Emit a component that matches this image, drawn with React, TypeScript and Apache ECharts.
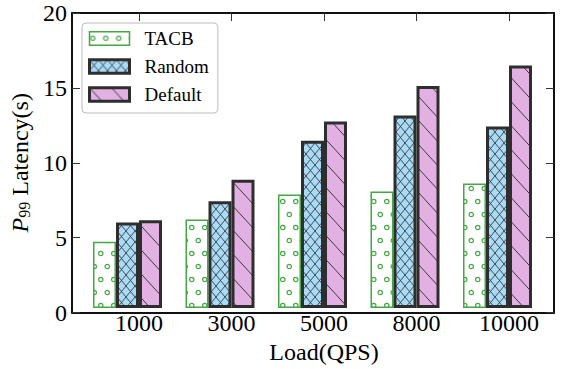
import React, { useEffect, useRef } from 'react';
import * as echarts from 'echarts';

const categories = ['1000', '3000', '5000', '8000', '10000'];
const tacbValues = [4.5, 6.0, 7.7, 7.9, 8.45];
const randomValues = [5.8, 7.25, 11.35, 13.05, 12.3];
const defaultValues = [5.95, 8.7, 12.65, 15.05, 16.45];
const seriesNames = ['TACB', 'Random', 'Default'];
const yMin = 0;
const yMax = 20;
const yInterval = 5;

const FONT = "'Liberation Serif', 'Times New Roman', serif";
const GREEN = '#45a845';
const DARK = '#2e2e2e';
const BLUE = '#a8dbf8';
const PINK = '#e2b0e2';

function makeTile(w: number, h: number, draw: (ctx: CanvasRenderingContext2D) => void) {
  const c = document.createElement('canvas');
  c.width = w;
  c.height = h;
  const ctx = c.getContext('2d') as CanvasRenderingContext2D;
  draw(ctx);
  return { image: c, repeat: 'repeat', imageWidth: w, imageHeight: h } as any;
}

function dotsPattern() {
  const w = 13, h = 26;
  return makeTile(w, h, (ctx) => {
    ctx.fillStyle = '#ffffff';
    ctx.fillRect(0, 0, w, h);
    ctx.strokeStyle = GREEN;
    ctx.lineWidth = 1.2;
    const pts = [[3.25, 6.5], [9.75, 19.5]];
    pts.forEach(([x, y]) => {
      ctx.beginPath();
      ctx.arc(x, y, 2.2, 0, Math.PI * 2);
      ctx.stroke();
    });
  });
}

function crossPattern() {
  const w = 9, h = 11;
  return makeTile(w, h, (ctx) => {
    ctx.fillStyle = BLUE;
    ctx.fillRect(0, 0, w, h);
    ctx.strokeStyle = '#3a3a3a';
    ctx.lineWidth = 0.9;
    for (let k = -1; k <= 1; k++) {
      ctx.beginPath();
      ctx.moveTo(k * w - w, -h);
      ctx.lineTo(k * w + 2 * w, 2 * h);
      ctx.stroke();
      ctx.beginPath();
      ctx.moveTo(k * w - w, 2 * h);
      ctx.lineTo(k * w + 2 * w, -h);
      ctx.stroke();
    }
  });
}

function diagPattern() {
  const w = 22, h = 24;
  return makeTile(w, h, (ctx) => {
    ctx.fillStyle = PINK;
    ctx.fillRect(0, 0, w, h);
    ctx.strokeStyle = '#3a3a3a';
    ctx.lineWidth = 1;
    for (let k = -1; k <= 1; k++) {
      ctx.beginPath();
      ctx.moveTo(k * w - w, -h);
      ctx.lineTo(k * w + 2 * w, 2 * h);
      ctx.stroke();
    }
  });
}

export default function App() {
  const ref = useRef<HTMLDivElement>(null);

  useEffect(() => {
    if (!ref.current) return;
    const chart = echarts.init(ref.current, null, { renderer: 'svg' });
    const dots = dotsPattern();
    const cross = crossPattern();
    const diag = diagPattern();

    const gridTop = 13;
    const gridBottom = 56.5;

    const frameAxis = {
      type: 'value',
      min: 0,
      max: 1,
      axisLine: { show: true, onZero: false, lineStyle: { color: '#111', width: 2 } },
      axisTick: { show: false },
      axisLabel: { show: false },
      splitLine: { show: false },
    };

    const option: any = {
      animation: false,
      textStyle: { fontFamily: FONT, color: '#000' },
      grid: [
        { left: 72, right: 10, top: gridTop, bottom: gridBottom },
        { left: 92.75, right: 8.75, top: gridTop, bottom: gridBottom },
      ],
      xAxis: [
        { ...frameAxis, gridIndex: 0, position: 'bottom' },
        { ...frameAxis, gridIndex: 0, position: 'top' },
        {
          type: 'category',
          gridIndex: 1,
          position: 'bottom',
          data: categories,
          axisLine: { show: false, onZero: false },
          axisTick: { show: false },
          axisLabel: { fontFamily: FONT, fontSize: 24, color: '#000', margin: 3 },
          name: 'Load(QPS)',
          nameLocation: 'middle',
          nameGap: 27,
          nameTextStyle: { fontFamily: FONT, fontSize: 24, color: '#000' },
        },
        {
          type: 'category',
          gridIndex: 1,
          position: 'top',
          data: categories,
          axisLine: { show: false, onZero: false },
          axisTick: { show: true, inside: true, alignWithLabel: true, length: 8, lineStyle: { color: '#333', width: 1 } },
          axisLabel: { show: false },
        },
      ],
      yAxis: [
        {
          type: 'value',
          gridIndex: 0,
          position: 'left',
          min: yMin,
          max: yMax,
          interval: yInterval,
          axisLine: { show: true, onZero: false, lineStyle: { color: '#111', width: 2 } },
          axisTick: { show: true, inside: true, length: 8, lineStyle: { color: '#333', width: 1 } },
          axisLabel: { fontFamily: FONT, fontSize: 24, color: '#000', margin: 5 },
          splitLine: { show: false },
          name: '{p|P}{s|99} Latency(s)',
          nameLocation: 'middle',
          nameGap: 35,
          nameTextStyle: {
            fontFamily: FONT,
            fontSize: 24,
            color: '#000',
            rich: {
              p: { fontFamily: FONT, fontSize: 24, fontStyle: 'italic', color: '#000' },
              s: { fontFamily: FONT, fontSize: 16, color: '#000', verticalAlign: 'bottom' },
            },
          },
        },
        {
          type: 'value',
          gridIndex: 0,
          position: 'right',
          min: yMin,
          max: yMax,
          interval: yInterval,
          axisLine: { show: true, onZero: false, lineStyle: { color: '#111', width: 2 } },
          axisTick: { show: true, inside: true, length: 8, lineStyle: { color: '#333', width: 1 } },
          axisLabel: { show: false },
          splitLine: { show: false },
        },
        {
          type: 'value',
          gridIndex: 1,
          min: yMin,
          max: yMax,
          show: false,
          splitLine: { show: false },
        },
      ],
      legend: {
        left: 82,
        top: 23,
        orient: 'vertical',
        icon: 'rect',
        itemWidth: 40,
        itemHeight: 13.5,
        itemGap: 9,
        padding: [6, 9, 9, 6],
        backgroundColor: '#ffffff',
        borderColor: '#bbbbbb',
        borderWidth: 1,
        borderRadius: 4,
        textStyle: { fontFamily: FONT, fontSize: 19, color: '#000', lineHeight: 19, padding: [0, 0, 0, 10] },
        data: [
          { name: seriesNames[0], itemStyle: { borderWidth: 1.5, borderColor: GREEN } },
          { name: seriesNames[1], itemStyle: { borderWidth: 3, borderColor: DARK } },
          { name: seriesNames[2], itemStyle: { borderWidth: 3, borderColor: DARK } },
        ],
      },
      series: [
        {
          name: seriesNames[0],
          type: 'bar',
          xAxisIndex: 2,
          yAxisIndex: 2,
          barWidth: 23,
          barGap: '0%',
          data: tacbValues,
          itemStyle: { color: dots, borderColor: GREEN, borderWidth: 1.5 },
        },
        {
          name: seriesNames[1],
          type: 'bar',
          xAxisIndex: 2,
          yAxisIndex: 2,
          barWidth: 23,
          barGap: '0%',
          data: randomValues,
          itemStyle: { color: cross, borderColor: DARK, borderWidth: 3 },
        },
        {
          name: seriesNames[2],
          type: 'bar',
          xAxisIndex: 2,
          yAxisIndex: 2,
          barWidth: 23,
          barGap: '0%',
          data: defaultValues,
          itemStyle: { color: diag, borderColor: DARK, borderWidth: 3 },
        },
        {
          name: 'spacer',
          type: 'bar',
          xAxisIndex: 2,
          yAxisIndex: 2,
          barWidth: 23,
          barGap: '0%',
          silent: true,
          data: categories.map(() => 0),
          itemStyle: { color: 'transparent', borderWidth: 0 },
        },
      ],
    };

    chart.setOption(option);
    return () => chart.dispose();
  }, []);

  return (
    <div
      ref={ref}
      style={{ position: 'absolute', left: 0, top: 0, width: 564, height: 369, background: '#fff' }}
    />
  );
}
